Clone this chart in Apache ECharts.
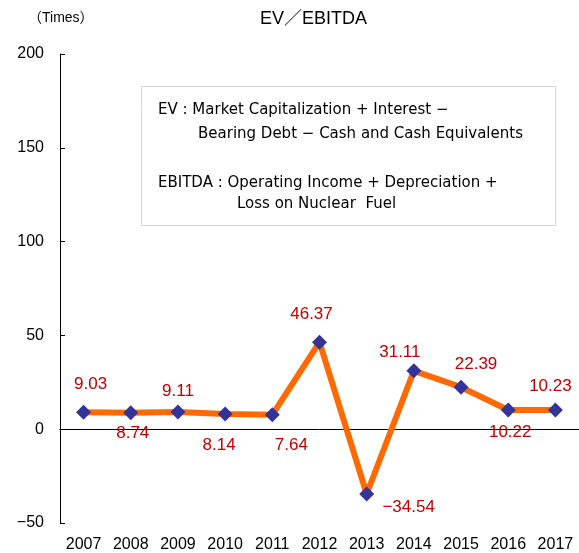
<!DOCTYPE html>
<html>
<head>
<meta charset="utf-8">
<script src="https://cdn.jsdelivr.net/npm/echarts@6/dist/echarts.min.js"></script>
<style>html,body{margin:0;padding:0;background:#fff}#c{width:579px;height:553px}</style>
</head>
<body>
<div id="c"></div>
<script>
const years = ['2007','2008','2009','2010','2011','2012','2013','2014','2015','2016','2017'];
const evEbitda = [9.03, 8.74, 9.11, 8.14, 7.64, 46.37, -34.54, 31.11, 22.39, 10.22, 10.23];
const yTicks = [-50, 0, 50, 100, 150, 200];
const titleText = 'EV／EBITDA';
const unitText = '（Times）';
const noteLines = [
  'EV : Market Capitalization + Interest −',
  'Bearing Debt − Cash and Cash Equivalents',
  'EBITDA : Operating Income + Depreciation +',
  'Loss on Nuclear  Fuel'
];

const FONT = '"Liberation Sans", Arial, "Noto Sans CJK JP", sans-serif';
const NOTE_FONT = '"DejaVu Sans", "Liberation Sans", sans-serif';
const labelOffsets = [[7,-28],[2,21],[0,-21],[-6,31],[19,30],[-8,-28],[42,13],[-14,-19],[15,-23],[2,22],[-5,-24]];
const notePos = [[158,103],[198,127],[158,176],[237,197]];

const chart = echarts.init(document.getElementById('c'), null, {renderer: 'canvas'});
chart.setOption({
  animation: false,
  grid: {left: 60, top: 54, width: 524, height: 470, containLabel: false},
  xAxis: {
    type: 'category',
    data: years,
    boundaryGap: true,
    axisLine: {lineStyle: {color: '#000', width: 1}},
    axisTick: {inside: true, length: 6, lineStyle: {color: '#000'}},
    axisLabel: {color: '#000', fontSize: 16, fontFamily: FONT, margin: 14},
    splitLine: {show: false}
  },
  yAxis: {
    type: 'value',
    min: yTicks[0], max: yTicks[yTicks.length-1], interval: 50,
    axisLine: {show: true, lineStyle: {color: '#000', width: 1}},
    axisTick: {show: true, inside: true, length: 5, lineStyle: {color: '#000'}},
    axisLabel: {color: '#000', fontSize: 16, fontFamily: FONT, margin: 16,
      formatter: v => v < 0 ? '−' + Math.abs(v) : String(v)},
    splitLine: {show: false}
  },
  series: [{
    type: 'line',
    data: evEbitda.map((v, i) => ({
      value: v,
      label: {offset: labelOffsets[i]}
    })),
    lineStyle: {color: '#ff6a00', width: 6},
    symbol: 'diamond',
    symbolSize: 15,
    itemStyle: {color: '#333399'},
    label: {
      show: true, position: 'inside', color: '#c00000', fontSize: 17, fontFamily: FONT,
      formatter: p => p.value < 0 ? '−' + Math.abs(p.value).toFixed(2) : p.value.toFixed(2)
    },
    z: 3
  }],
  graphic: [
    {type: 'text', left: 260, top: 10, style: {text: titleText, fontSize: 18, fontFamily: FONT, fill: '#000'}},
    {type: 'text', left: 28, top: 11, style: {text: unitText, fontSize: 14, fontFamily: FONT, fill: '#000'}},
    {type: 'rect', shape: {x: 141.5, y: 86.5, width: 414, height: 139},
     style: {fill: '#fff', stroke: '#aaa', lineWidth: 1, lineDash: [1, 1]}}
  ].concat(noteLines.map((t, i) => ({
    type: 'text', left: notePos[i][0], top: notePos[i][1],
    style: {text: t, fontSize: 15, fontFamily: NOTE_FONT, fill: '#000'}
  })))
});
</script>
</body>
</html>
